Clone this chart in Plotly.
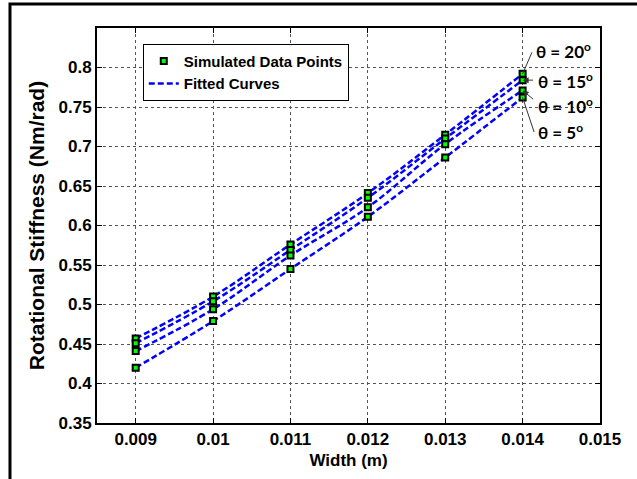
import plotly.graph_objects as go

width_m = [0.009, 0.010, 0.011, 0.012, 0.013, 0.014]
theta20 = [0.457, 0.510, 0.576, 0.641, 0.715, 0.792]
theta15 = [0.451, 0.504, 0.569, 0.635, 0.710, 0.784]
theta10 = [0.441, 0.494, 0.562, 0.623, 0.703, 0.771]
theta5 = [0.420, 0.479, 0.545, 0.611, 0.686, 0.762]
series = [theta20, theta15, theta10, theta5]
labels = ["θ = 20<sup>o</sup>", "θ = 15<sup>o</sup>", "θ = 10<sup>o</sup>", "θ = 5<sup>o</sup>"]

xticks = [0.009, 0.010, 0.011, 0.012, 0.013, 0.014, 0.015]
xticklabels = ["0.009", "0.01", "0.011", "0.012", "0.013", "0.014", "0.015"]
yticks = [0.35, 0.4, 0.45, 0.5, 0.55, 0.6, 0.65, 0.7, 0.75, 0.8]
yticklabels = ["0.35", "0.4", "0.45", "0.5", "0.55", "0.6", "0.65", "0.7", "0.75", "0.8"]

FONT = "Liberation Sans, Arial, sans-serif"
fig = go.Figure()

for i, ys in enumerate(series):
    fig.add_trace(go.Scatter(
        x=width_m, y=ys, mode="lines", line_shape="spline",
        line=dict(color="#0000ff", width=2.5, dash="6px,3px"),
        name="Fitted Curves", showlegend=(i == 0), legendrank=2,
    ))
for i, ys in enumerate(series):
    fig.add_trace(go.Scatter(
        x=width_m, y=ys, mode="markers",
        marker=dict(symbol="square", size=6, color="#00ff00",
                    line=dict(color="black", width=2)),
        name="Simulated Data Points", showlegend=(i == 0), legendrank=1,
    ))

# arrows (tip at data point, tail offset in pixels)
arrow_tails = [(10, -23, 0), (12, 0, 2), (12, 10, 2), (12, 36, 0)]
for ys, (ax, ay, head) in zip(series, arrow_tails):
    fig.add_annotation(x=width_m[-1], y=ys[-1], xref="x", yref="y", text="",
                       showarrow=True, ax=ax, ay=ay, arrowhead=head,
                       arrowsize=1.2, arrowwidth=1, arrowcolor="#333333")

text_pos = [(0.869, 0.944), (0.873, 0.868), (0.873, 0.805), (0.873, 0.739)]
for lab, (px, py) in zip(labels, text_pos):
    fig.add_annotation(x=px, y=py, xref="paper", yref="paper", text=lab,
                       showarrow=False, xanchor="left", yanchor="middle",
                       font=dict(family="Lato, Open Sans, sans-serif", size=17,
                                 color="black", weight=700))

# outer frame
fig.add_shape(type="rect", xref="paper", yref="paper",
              x0=-0.173, y0=-0.2, x1=1.2, y1=1.061,
              line=dict(color="black", width=3), layer="below")

axis_common = dict(
    showline=True, linecolor="black", linewidth=2, mirror="ticks",
    ticks="inside", ticklen=5, tickcolor="black", tickwidth=1,
    showgrid=True, gridcolor="#555555", gridwidth=1, griddash="3px,3px",
    zeroline=False,
    tickfont=dict(family=FONT, size=17, color="black", weight=700),
)

fig.update_xaxes(range=[0.0085, 0.015], tickvals=xticks, ticktext=xticklabels,
                 title=dict(text="Width (m)", font=dict(family=FONT, size=17, color="black", weight=700), standoff=6),
                 **axis_common)
fig.update_yaxes(range=[0.35, 0.85], tickvals=yticks, ticktext=yticklabels,
                 title=dict(text="Rotational Stiffness (Nm/rad)", font=dict(family=FONT, size=21, color="black", weight=700), standoff=8),
                 **axis_common)

fig.update_layout(
    width=637, height=479,
    margin=dict(l=97, r=37, t=28, b=56),
    plot_bgcolor="white", paper_bgcolor="white",
    legend=dict(x=0.091, y=0.96, xanchor="left", yanchor="top",
                bordercolor="black", borderwidth=1, bgcolor="white",
                font=dict(family=FONT, size=15, color="black", weight=700),
                tracegroupgap=0, itemwidth=30),
)

fig.write_html("out.html")
